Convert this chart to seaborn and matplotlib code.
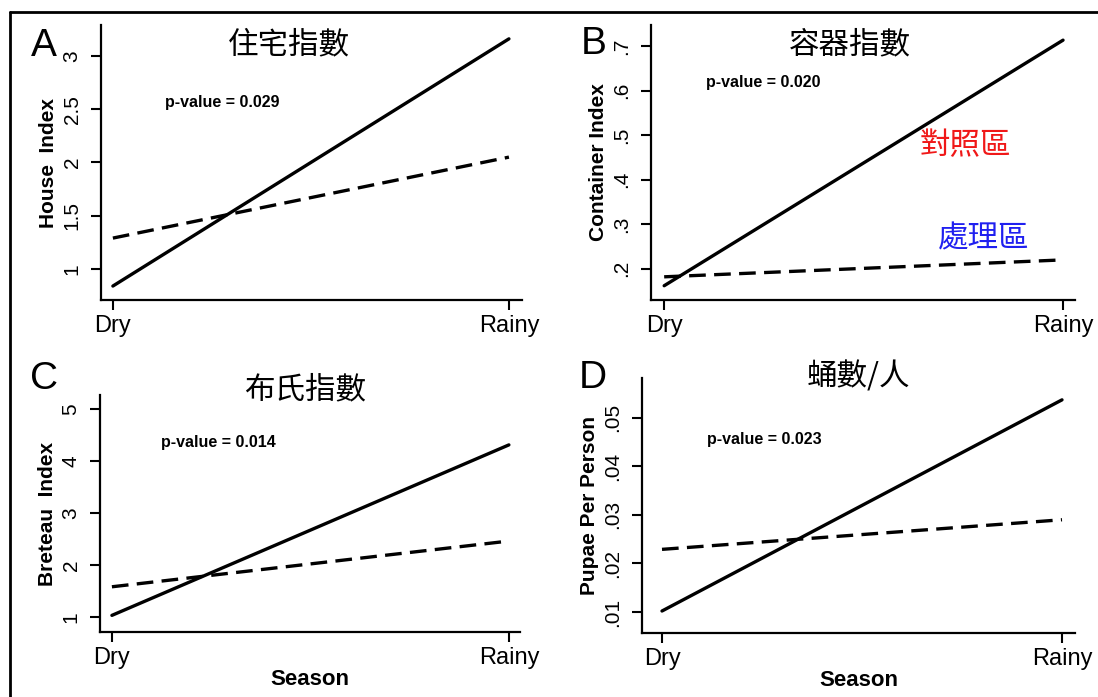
import pandas as pd
import matplotlib.pyplot as plt
import seaborn as sns
from matplotlib.lines import Line2D

sns.set_style('ticks')
plt.rcParams['font.family'] = ['Liberation Sans', 'Noto Sans CJK TC', 'DejaVu Sans']
plt.rcParams['text.color'] = 'black'
plt.rcParams['axes.labelcolor'] = 'black'
plt.rcParams['xtick.color'] = 'black'
plt.rcParams['ytick.color'] = 'black'
CJK = ['Noto Sans CJK TC', 'DejaVu Sans']

# data
season = ['Dry', 'Rainy']
groups = ['對照區', '處理區']   # control (solid), treatment (dashed)

house_control = [0.84, 3.16]
house_treat = [1.29, 2.05]
container_control = [0.162, 0.713]
container_treat = [0.182, 0.220]
breteau_control = [1.03, 4.31]
breteau_treat = [1.58, 2.46]
pupae_control = [0.0102, 0.0537]
pupae_treat = [0.0229, 0.0290]

house_ticks = [1, 1.5, 2, 2.5, 3]
house_labels = ['1', '1.5', '2', '2.5', '3']
container_ticks = [0.2, 0.3, 0.4, 0.5, 0.6, 0.7]
container_labels = ['.2', '.3', '.4', '.5', '.6', '.7']
breteau_ticks = [1, 2, 3, 4, 5]
breteau_labels = ['1', '2', '3', '4', '5']
pupae_ticks = [0.01, 0.02, 0.03, 0.04, 0.05]
pupae_labels = ['.01', '.02', '.03', '.04', '.05']

p_values = ['0.029', '0.020', '0.014', '0.023']
titles = ['住宅指數', '容器指數', '布氏指數', '蛹數/人']
letters = ['A', 'B', 'C', 'D']
ylabels = ['House  Index', 'Container Index', 'Breteau  Index', 'Pupae Per Person']


def make_df(control, treat):
    return pd.DataFrame({
        'season': season * 2,
        'value': list(control) + list(treat),
        'group': [groups[0]] * 2 + [groups[1]] * 2,
    })


W, H = 1098, 697
fig = plt.figure(figsize=(W / 100, H / 100), dpi=100)


def px_axes(x0, x1, y0, y1):
    return fig.add_axes([x0 / W, 1 - y1 / H, (x1 - x0) / W, (y1 - y0) / H])


# panel layout in pixels: axes box, xlim, ylim, title / letter / p-value positions
panels = [
    dict(box=(101, 522, 25, 300), xlim=(-0.030, 1.033), ylim=(0.709, 3.29),
         df=make_df(house_control, house_treat), ticks=house_ticks, labels=house_labels,
         title_xy=(289, 45), letter_xy=(44, 46), p_xy=(165, 102), season=False),
    dict(box=(651, 1075, 25, 300), xlim=(-0.033, 1.030), ylim=(0.130, 0.747),
         df=make_df(container_control, container_treat), ticks=container_ticks,
         labels=container_labels,
         title_xy=(850, 45), letter_xy=(594, 44), p_xy=(706, 83), season=False),
    dict(box=(100, 520, 395, 632), xlim=(-0.030, 1.028), ylim=(0.71, 5.27),
         df=make_df(breteau_control, breteau_treat), ticks=breteau_ticks,
         labels=breteau_labels,
         title_xy=(305, 390), letter_xy=(44, 379), p_xy=(161, 443), season=True),
    dict(box=(642, 1075, 378, 633), xlim=(-0.050, 1.0325), ylim=(0.00567, 0.0582),
         df=make_df(pupae_control, pupae_treat), ticks=pupae_ticks, labels=pupae_labels,
         title_xy=(858, 377), letter_xy=(593, 378), p_xy=(707, 440), season=True),
]

for i, p in enumerate(panels):
    ax = px_axes(*p['box'])
    sns.lineplot(data=p['df'], x='season', y='value', style='group',
                 dashes={groups[0]: '', groups[1]: (5, 2.5)},
                 color='black', linewidth=2.4, legend=False, ax=ax)
    ax.set_xlim(*p['xlim'])
    ax.set_ylim(*p['ylim'])
    ax.set_xticks([0, 1])
    ax.set_xticklabels(season, fontsize=17)
    ax.set_yticks(p['ticks'])
    ax.set_yticklabels(p['labels'], fontsize=15, rotation=90, va='center')
    ax.tick_params(axis='both', length=7, width=1.5, color='black', direction='out')
    ax.tick_params(axis='x', pad=4)
    ax.tick_params(axis='y', pad=7)
    for side in ['top', 'right']:
        ax.spines[side].set_visible(False)
    for side in ['left', 'bottom']:
        ax.spines[side].set_linewidth(1.6)
        ax.spines[side].set_color('black')
    ax.set_ylabel(ylabels[i], fontsize=15, fontweight='bold', labelpad=3)
    if p['season']:
        ax.set_xlabel('Season', fontsize=16, fontweight='bold', labelpad=0)
    else:
        ax.set_xlabel('')
    ax.set_facecolor('white')

    tx, ty = p['title_xy']
    fig.text(tx / W, 1 - ty / H, titles[i], family=CJK, fontsize=22,
             fontweight='light', ha='center', va='center')
    lx, ly = p['letter_xy']
    fig.text(lx / W, 1 - ly / H, letters[i], fontsize=28, ha='center', va='center')
    px, py = p['p_xy']
    fig.text(px / W, 1 - py / H, 'p-value = ' + p_values[i], fontsize=11.5,
             fontweight='bold', ha='left', va='center')

# group labels in panel B
fig.text(920 / W, 1 - 146 / H, groups[0], family=CJK, fontsize=22, color='#f01818',
         fontweight='light', ha='left', va='center')
fig.text(938 / W, 1 - 239 / H, groups[1], family=CJK, fontsize=22, color='#2020f0',
         fontweight='light', ha='left', va='center')

# outer frame (top and left edges visible)
fig.add_artist(Line2D([10 / W, 1], [1 - 12 / H, 1 - 12 / H], color='black', lw=2))
fig.add_artist(Line2D([10 / W, 10 / W], [1 - 12 / H, 0], color='black', lw=2))

fig.savefig('out.png', dpi=100, facecolor='white')
